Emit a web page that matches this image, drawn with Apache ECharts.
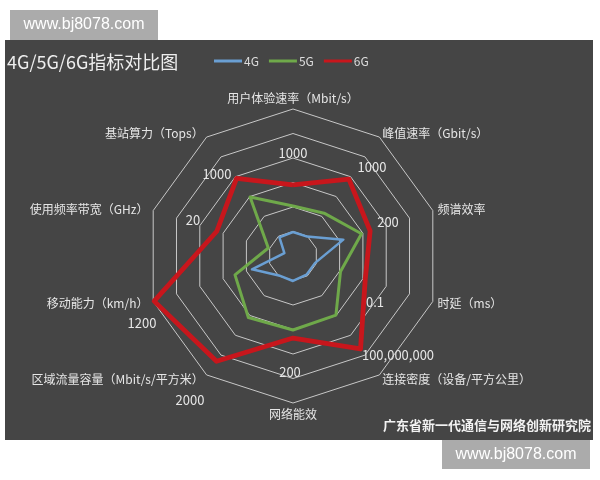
<!DOCTYPE html>
<html>
<head>
<meta charset="utf-8">
<script src="https://cdn.jsdelivr.net/npm/echarts@6/dist/echarts.min.js"></script>
<style>
html,body{margin:0;padding:0;background:#ffffff;}
#c{width:600px;height:480px;}
</style>
</head>
<body>
<div id="c"></div>
<script>
// Indicators in ECharts order (counter-clockwise starting from the top)
var indicatorNames = [
  '用户体验速率（Mbit/s）',
  '基站算力（Tops）',
  '使用频率带宽（GHz）',
  '移动能力（km/h）',
  '区域流量容量（Mbit/s/平方米）',
  '网络能效',
  '连接密度（设备/平方公里）',
  '时延（ms）',
  '频谱效率',
  '峰值速率（Gbit/s）'
];
var seriesNames = ['4G', '5G', '6G'];
// normalised index values (scale 0..6)
var values4G = [0.98, 0.94, 0.37, 1.76, 0.98, 1.02, 0.94, 0.94, 2.16, 0.98];
var values5G = [2.04, 2.98, 1.06, 2.49, 3.10, 3.02, 2.98, 2.04, 2.94, 2.16];
var values6G = [2.90, 3.92, 3.27, 5.96, 5.31, 3.35, 4.69, 3.10, 3.31, 3.88];
// 6G target annotations, same order as indicators
var annot6G = ['1000', '1000', '20', '1200', '2000', '200', '100,000,000', '0.1', '200', '1000'];
var scaleMax = 6;

// layout only
var annotPos = [[293,153],[217,174],[193,220],[142,323],[190,400],[290,372],[398,355],[375,302],[388,222],[372,167]];
var colors = ['#6a9fd3', '#6fa94a', '#c8161c'];
var widths = [2.5, 3, 4.8];

var chart = echarts.init(document.getElementById('c'), null, {renderer: 'canvas'});

var graphics = [
  {type: 'rect', z: -10, silent: true, shape: {x: 5, y: 40, width: 588, height: 400}, style: {fill: '#454545'}},
  {type: 'rect', z: 100, silent: true, shape: {x: 10, y: 10, width: 148, height: 30}, style: {fill: '#ababab'}},
  {type: 'text', z: 101, silent: true, x: 84, y: 25, style: {text: 'www.bj8078.com', fill: '#ffffff', font: '16px "Liberation Sans", Arial, sans-serif', align: 'center', verticalAlign: 'middle'}},
  {type: 'rect', z: 100, silent: true, shape: {x: 442, y: 440, width: 148, height: 29}, style: {fill: '#ababab'}},
  {type: 'text', z: 101, silent: true, x: 516, y: 455, style: {text: 'www.bj8078.com', fill: '#ffffff', font: '16px "Liberation Sans", Arial, sans-serif', align: 'center', verticalAlign: 'middle'}},
  {type: 'text', z: 101, silent: true, x: 591, y: 425, style: {text: '广东省新一代通信与网络创新研究院', fill: '#f2f2f2', font: 'bold 13px "Noto Sans CJK SC", sans-serif', align: 'right', verticalAlign: 'middle'}}
];
for (var i = 0; i < annot6G.length; i++) {
  graphics.push({type: 'text', z: 50, silent: true, x: annotPos[i][0], y: annotPos[i][1],
    style: {text: annot6G[i], fill: '#e6e6e6', font: '13px "Noto Sans CJK SC", sans-serif', align: 'center', verticalAlign: 'middle'}});
}

var dataSets = [values4G, values5G, values6G];
var series = [];
for (var s = 0; s < 3; s++) {
  series.push({
    type: 'radar',
    name: seriesNames[s],
    symbol: 'none',
    z: 2 + s,
    lineStyle: {color: colors[s], width: widths[s], join: 'round'},
    itemStyle: {color: colors[s]},
    data: [{value: dataSets[s], name: seriesNames[s]}]
  });
}

var option = {
  backgroundColor: 'transparent',
  animation: false,
  title: {
    text: '4G/5G/6G指标对比图',
    left: 2, top: 48,
    textStyle: {color: '#eeeeee', fontSize: 18, fontWeight: 'normal', fontFamily: '"Noto Sans CJK SC", sans-serif'}
  },
  legend: {
    data: seriesNames,
    left: 209, top: 50,
    icon: 'rect',
    itemWidth: 28, itemHeight: 3,
    itemGap: 10,
    textStyle: {color: '#dddddd', fontSize: 12, fontFamily: '"Noto Sans CJK SC", sans-serif', padding: [0,0,0,-3]}
  },
  radar: {
    center: [293, 256],
    radius: 147,
    startAngle: 90,
    splitNumber: 6,
    shape: 'polygon',
    nameGap: 5,
    axisName: {color: '#e6e6e6', fontSize: 12, fontFamily: '"Noto Sans CJK SC", sans-serif'},
    axisLine: {show: false},
    splitArea: {show: false},
    splitLine: {lineStyle: {color: '#c8c8c8', width: 1}},
    indicator: indicatorNames.map(function (n) { return {name: n, max: scaleMax, min: 0}; })
  },
  graphic: graphics,
  series: series
};
chart.setOption(option);
</script>
</body>
</html>
